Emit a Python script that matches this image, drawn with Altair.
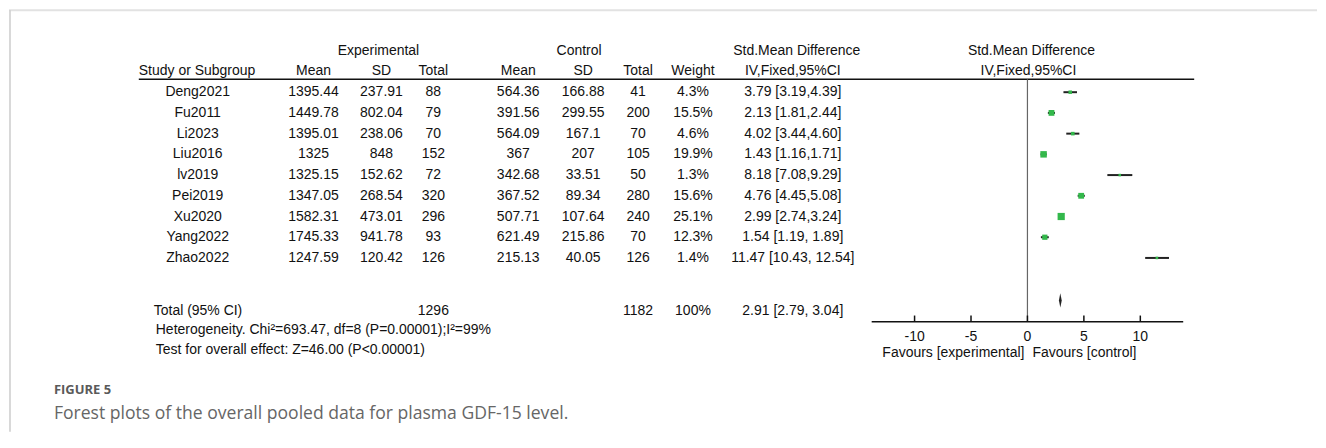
import altair as alt
import pandas as pd

# ---------------- data ----------------
studies = ["Deng2021", "Fu2011", "Li2023", "Liu2016", "lv2019",
           "Pei2019", "Xu2020", "Yang2022", "Zhao2022"]
exp_mean = [1395.44, 1449.78, 1395.01, 1325, 1325.15, 1347.05, 1582.31, 1745.33, 1247.59]
exp_sd = [237.91, 802.04, 238.06, 848, 152.62, 268.54, 473.01, 941.78, 120.42]
exp_n = [88, 79, 70, 152, 72, 320, 296, 93, 126]
ctl_mean = [564.36, 391.56, 564.09, 367, 342.68, 367.52, 507.71, 621.49, 215.13]
ctl_sd = [166.88, 299.55, 167.1, 207, 33.51, 89.34, 107.64, 215.86, 40.05]
ctl_n = [41, 200, 70, 105, 50, 280, 240, 70, 126]
weight = [4.3, 15.5, 4.6, 19.9, 1.3, 15.6, 25.1, 12.3, 1.4]
smd = [3.79, 2.13, 4.02, 1.43, 8.18, 4.76, 2.99, 1.54, 11.47]
ci_lo = [3.19, 1.81, 3.44, 1.16, 7.08, 4.45, 2.74, 1.19, 10.43]
ci_hi = [4.39, 2.44, 4.60, 1.71, 9.29, 5.08, 3.24, 1.89, 12.54]
ci_text = ["3.79 [3.19,4.39]", "2.13 [1.81,2.44]", "4.02 [3.44,4.60]",
           "1.43 [1.16,1.71]", "8.18 [7.08,9.29]", "4.76 [4.45,5.08]",
           "2.99 [2.74,3.24]", "1.54 [1.19, 1.89]", "11.47 [10.43, 12.54]"]

total_exp = 1296
total_ctl = 1182
total_weight = "100%"
pooled = 2.91
pooled_lo = 2.79
pooled_hi = 3.04
pooled_text = "2.91 [2.79, 3.04]"
heterogeneity = "Heterogeneity. Chi\u00b2=693.47, df=8 (P=0.00001);I\u00b2=99%"
overall = "Test for overall effect: Z=46.00 (P<0.00001)"

tick_values = [-10, -5, 0, 5, 10]
axis_domain = [-13.8, 13.8]
favours_left = "Favours [experimental]"
favours_right = "Favours [control]"

caption_label = "FIGURE 5"
caption_text = "Forest plots of the overall pooled data for plasma GDF-15 level."

# ---------------- layout (positions / styles) ----------------
W, H = 1310, 424
FONT = "Liberation Sans"
GREEN = "#33b84b"

R_HDR1, R_HDR2, R_LINE, R_ZTOP = -2, -1, -0.62, -0.62
R_DIAMOND, R_TOTAL, R_HET, R_TEST = 10.05, 10.55, 11.5, 12.42
R_AXIS, R_TICKLAB, R_FAV = 11.08, 11.8, 12.58

yscale = alt.Scale(domain=[0, 8], range=[84, 84 + 8 * 20.75], nice=False, zero=False)
xscale = alt.Scale(domain=axis_domain, range=[864, 1176], nice=False, zero=False)

col_pos = {
    "study": (189, "center"), "e_mean": (305, "center"), "e_sd": (373, "center"),
    "e_n": (425, "center"), "c_mean": (510, "center"), "c_sd": (575, "center"),
    "c_n": (630, "center"), "weight": (685, "center"), "ci": (785, "center"),
    "plot": (1021, "center"), "e_grp": (370, "center"), "c_grp": (571, "center"),
    "ci_grp": (789, "center"), "plot_grp": (1024, "center"),
    "hdr_left": (130, "left"), "sum_left": (145, "left"), "foot_left": (147, "left"),
}

# ---------------- table cells ----------------
cells = []


def add(col, row, text):
    cells.append({"col": col, "row": row, "text": str(text)})


add("e_grp", R_HDR1, "Experimental")
add("c_grp", R_HDR1, "Control")
add("ci_grp", R_HDR1, "Std.Mean Difference")
add("plot_grp", R_HDR1, "Std.Mean Difference")
for c, t in [("hdr_left", "Study or Subgroup"), ("e_mean", "Mean"), ("e_sd", "SD"),
             ("e_n", "Total"), ("c_mean", "Mean"), ("c_sd", "SD"), ("c_n", "Total"),
             ("weight", "Weight"), ("ci", "IV,Fixed,95%CI"), ("plot", "IV,Fixed,95%CI")]:
    add(c, R_HDR2, t)
for i, s in enumerate(studies):
    add("study", i, s)
    add("e_mean", i, exp_mean[i])
    add("e_sd", i, exp_sd[i])
    add("e_n", i, exp_n[i])
    add("c_mean", i, ctl_mean[i])
    add("c_sd", i, ctl_sd[i])
    add("c_n", i, ctl_n[i])
    add("weight", i, f"{weight[i]}%")
    add("ci", i, ci_text[i])
add("sum_left", R_TOTAL, "Total (95% CI)")
add("e_n", R_TOTAL, total_exp)
add("c_n", R_TOTAL, total_ctl)
add("weight", R_TOTAL, total_weight)
add("ci", R_TOTAL, pooled_text)
add("foot_left", R_HET, heterogeneity)
add("foot_left", R_TEST, overall)

cells_df = pd.DataFrame(cells)

layers = []
for col, (xpos, align) in col_pos.items():
    layers.append(
        alt.Chart(cells_df).transform_filter(alt.datum.col == col)
        .mark_text(align=align, baseline="middle", font=FONT, fontSize=14, color="#111")
        .encode(x=alt.value(xpos),
                y=alt.Y("row:Q", scale=yscale, axis=None),
                text="text:N")
    )

# header underline
layers.append(
    alt.Chart(pd.DataFrame({"r": [R_LINE]})).mark_rule(color="#111", strokeWidth=1.5)
    .encode(x=alt.value(130), x2=alt.value(1187), y=alt.Y("r:Q", scale=yscale, axis=None))
)

# ---------------- forest plot ----------------
forest_df = pd.DataFrame({"row": list(range(len(studies))), "smd": smd,
                          "lo": ci_lo, "hi": ci_hi, "w": weight})

zero_df = pd.DataFrame({"x": [0], "y": [R_ZTOP], "y2": [R_AXIS]})
layers.append(
    alt.Chart(zero_df).mark_rule(color="#666", strokeWidth=1.2)
    .encode(x=alt.X("x:Q", scale=xscale, axis=None),
            y=alt.Y("y:Q", scale=yscale, axis=None), y2="y2:Q")
)

layers.append(
    alt.Chart(forest_df).mark_rule(color="#222", strokeWidth=2)
    .encode(x=alt.X("lo:Q", scale=xscale, axis=None), x2="hi:Q",
            y=alt.Y("row:Q", scale=yscale, axis=None))
)
layers.append(
    alt.Chart(forest_df).mark_square(color=GREEN, opacity=1)
    .encode(x=alt.X("smd:Q", scale=xscale, axis=None),
            y=alt.Y("row:Q", scale=yscale, axis=None),
            size=alt.Size("w:Q", scale=alt.Scale(domain=[0, 25.1], range=[4, 52]), legend=None))
)

# pooled diamond
half = 0.34
diamond_df = pd.DataFrame({
    "x": [pooled_lo, pooled, pooled_hi],
    "yt": [R_DIAMOND, R_DIAMOND - half, R_DIAMOND],
    "yb": [R_DIAMOND, R_DIAMOND + half, R_DIAMOND],
})
layers.append(
    alt.Chart(diamond_df).mark_area(color="#222", orient="vertical")
    .encode(x=alt.X("x:Q", scale=xscale, axis=None),
            y=alt.Y("yt:Q", scale=yscale, axis=None), y2="yb:Q")
)

# axis line, ticks, labels
axis_df = pd.DataFrame({"x": [axis_domain[0]], "x2": [axis_domain[1]], "y": [R_AXIS]})
layers.append(
    alt.Chart(axis_df).mark_rule(color="#111", strokeWidth=1.5)
    .encode(x=alt.X("x:Q", scale=xscale, axis=None), x2="x2:Q",
            y=alt.Y("y:Q", scale=yscale, axis=None))
)
ticks_df = pd.DataFrame({"t": tick_values, "lab": [str(t) for t in tick_values],
                         "y": [R_AXIS] * len(tick_values),
                         "y2": [R_AXIS - 0.3] * len(tick_values),
                         "yl": [R_TICKLAB] * len(tick_values)})
layers.append(
    alt.Chart(ticks_df).mark_rule(color="#111", strokeWidth=1.5)
    .encode(x=alt.X("t:Q", scale=xscale, axis=None),
            y=alt.Y("y:Q", scale=yscale, axis=None), y2="y2:Q")
)
layers.append(
    alt.Chart(ticks_df).mark_text(font=FONT, fontSize=14, color="#111", baseline="middle")
    .encode(x=alt.X("t:Q", scale=xscale, axis=None),
            y=alt.Y("yl:Q", scale=yscale, axis=None), text="lab:N")
)
fav_df = pd.DataFrame({"x": [0], "y": [R_FAV]})
layers.append(
    alt.Chart(fav_df).mark_text(font=FONT, fontSize=14, color="#111", baseline="middle",
                                align="right", dx=-3, text=favours_left)
    .encode(x=alt.X("x:Q", scale=xscale, axis=None), y=alt.Y("y:Q", scale=yscale, axis=None))
)
layers.append(
    alt.Chart(fav_df).mark_text(font=FONT, fontSize=14, color="#111", baseline="middle",
                                align="left", dx=5, text=favours_right)
    .encode(x=alt.X("x:Q", scale=xscale, axis=None), y=alt.Y("y:Q", scale=yscale, axis=None))
)

# figure frame (decoration)
layers.append(
    alt.Chart(pd.DataFrame({"a": [0]})).mark_rule(color="#e2e2e2", strokeWidth=2)
    .encode(x=alt.value(0), x2=alt.value(W), y=alt.value(2))
)
layers.append(
    alt.Chart(pd.DataFrame({"a": [0]})).mark_rule(color="#cccccc", strokeWidth=1.5)
    .encode(x=alt.value(1), y=alt.value(2), y2=alt.value(H))
)

# caption
layers.append(
    alt.Chart(pd.DataFrame({"t": [caption_label]}))
    .mark_text(font="Open Sans", fontSize=13, fontWeight="bold", color="#5a5a5a",
               align="left", baseline="middle")
    .encode(x=alt.value(45), y=alt.value(382), text="t:N")
)
layers.append(
    alt.Chart(pd.DataFrame({"t": [caption_text]}))
    .mark_text(font="Open Sans", fontSize=17.6, color="#666666",
               align="left", baseline="middle")
    .encode(x=alt.value(45), y=alt.value(406), text="t:N")
)

chart = alt.layer(*layers).properties(
    width=W, height=H, padding=0,
).configure_view(strokeWidth=0)

chart.save("out.html", embed_options={"renderer": "svg", "actions": False})
